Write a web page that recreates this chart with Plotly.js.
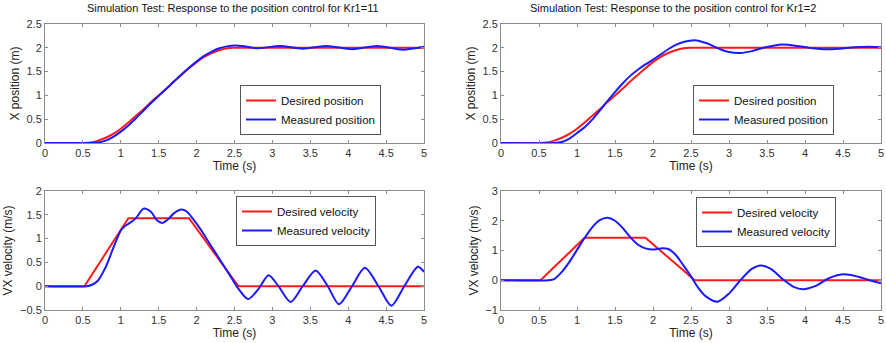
<!DOCTYPE html>
<html>
<head>
<meta charset="utf-8">
<script src="https://cdn.plot.ly/plotly-3.0.1.min.js"></script>
<style>html,body{margin:0;padding:0;background:#fff;}#chart{width:886px;height:343px;}</style>
</head>
<body>
<div id="chart"></div>
<script>
// ---- Data ----
var titles = ["Simulation Test: Response to the position control for Kr1=11",
              "Simulation Test: Response to the position control for Kr1=2"];
var xTicks = [0, 0.5, 1, 1.5, 2, 2.5, 3, 3.5, 4, 4.5, 5];
var xTickLabels = ["0", "0.5", "1", "1.5", "2", "2.5", "3", "3.5", "4", "4.5", "5"];

// Desired position (same in both tests)
var tDesPos = [0, 0.5, 0.6, 0.7, 0.8, 0.9, 1.0, 1.1, 1.2, 1.3, 1.4, 1.5, 1.6, 1.7, 1.8, 1.9, 2.0, 2.1, 2.2, 2.3, 2.4, 2.5, 3, 4, 5];
var desPos  = [0, 0, 0.01, 0.05, 0.11, 0.19, 0.30, 0.43, 0.57, 0.71, 0.86, 1.0, 1.14, 1.29, 1.43, 1.57, 1.70, 1.81, 1.89, 1.95, 1.99, 2.0, 2.0, 2.0, 2.0];

// Measured position, Kr1 = 11
var tMeasPos1 = [0, 0.6, 0.7, 0.8, 0.9, 1.0, 1.1, 1.2, 1.3, 1.4, 1.5, 1.6, 1.7, 1.8, 1.9, 2.0, 2.1, 2.2, 2.3, 2.4, 2.5, 2.6, 2.8, 3.1, 3.4, 3.72, 4.05, 4.38, 4.72, 5.0];
var measPos1  = [0, 0, 0.01, 0.05, 0.13, 0.24, 0.37, 0.52, 0.68, 0.84, 0.99, 1.14, 1.29, 1.44, 1.58, 1.71, 1.83, 1.92, 1.99, 2.03, 2.05, 2.04, 1.99, 2.04, 1.98, 2.04, 1.97, 2.04, 1.96, 2.02];

// Measured position, Kr1 = 2
var tMeasPos2 = [0, 0.7, 0.8, 0.9, 1.0, 1.1, 1.2, 1.3, 1.4, 1.5, 1.6, 1.7, 1.8, 1.9, 2.0, 2.1, 2.2, 2.3, 2.4, 2.55, 2.7, 2.8, 2.9, 3.0, 3.15, 3.3, 3.45, 3.7, 3.9, 4.05, 4.25, 4.45, 4.65, 4.85, 5.0];
var measPos2  = [0, 0, 0.02, 0.09, 0.21, 0.33, 0.49, 0.68, 0.88, 1.07, 1.25, 1.41, 1.54, 1.65, 1.75, 1.86, 1.97, 2.06, 2.12, 2.16, 2.1, 2.03, 1.96, 1.91, 1.89, 1.93, 2.0, 2.07, 2.04, 2.0, 1.97, 1.98, 2.01, 2.02, 2.01];

// Desired velocity (same in both tests)
var tDesVel = [0, 0.52, 1.1, 1.9, 2.55, 5];
var desVel  = [0, 0, 1.43, 1.43, 0, 0];

// Measured velocity, Kr1 = 11
var tMeasVel1 = [0, 0.55, 0.62, 0.7, 0.8, 0.9, 1.0, 1.05, 1.12, 1.2, 1.3, 1.4, 1.48, 1.55, 1.62, 1.7, 1.8, 1.87, 1.95, 2.05, 2.15, 2.25, 2.35, 2.45, 2.55, 2.68, 2.82, 2.95, 3.08, 3.24, 3.4, 3.57, 3.73, 3.88, 4.05, 4.22, 4.4, 4.57, 4.74, 4.92, 5.0];
var measVel1  = [0, 0, 0.03, 0.12, 0.4, 0.8, 1.17, 1.26, 1.33, 1.43, 1.63, 1.56, 1.38, 1.33, 1.4, 1.53, 1.61, 1.57, 1.42, 1.2, 0.95, 0.7, 0.45, 0.2, -0.05, -0.27, -0.05, 0.23, 0.0, -0.33, 0.0, 0.33, 0.0, -0.38, 0.0, 0.39, 0.0, -0.41, 0.0, 0.41, 0.3];

// Measured velocity, Kr1 = 2
var tMeasVel2 = [0, 0.62, 0.7, 0.8, 0.9, 1.0, 1.1, 1.2, 1.3, 1.4, 1.5, 1.6, 1.7, 1.8, 1.9, 2.0, 2.1, 2.2, 2.3, 2.4, 2.5, 2.6, 2.7, 2.85, 3.0, 3.15, 3.3, 3.42, 3.55, 3.7, 3.85, 3.97, 4.15, 4.3, 4.5, 4.7, 4.85, 5.0];
var measVel2  = [0, 0, 0.04, 0.28, 0.62, 1.02, 1.42, 1.78, 2.02, 2.1, 2.0, 1.76, 1.45, 1.2, 1.07, 1.03, 1.07, 1.05, 0.85, 0.5, 0.13, -0.27, -0.55, -0.72, -0.45, 0.0, 0.38, 0.5, 0.38, 0.05, -0.22, -0.3, -0.18, 0.05, 0.2, 0.12, 0.0, -0.1];

// ---- Styling ----
var RED = "#ff1a1a", BLUE = "#1a1aff";
var FONT = "Liberation Sans, Arial, sans-serif";

function line(x, y, name, color, xa, ya, leg, shape) {
  return {x: x, y: y, name: name, mode: "lines", type: "scatter",
          line: {color: color, width: 2, shape: shape || "spline", smoothing: 0.8},
          xaxis: xa, yaxis: ya, legend: leg, hoverinfo: "skip"};
}

var data = [
  line(tDesPos, desPos, "Desired position", RED, "x", "y", "legend"),
  line(tMeasPos1, measPos1, "Measured position", BLUE, "x", "y", "legend"),
  line(tDesPos, desPos, "Desired position", RED, "x2", "y2", "legend2"),
  line(tMeasPos2, measPos2, "Measured position", BLUE, "x2", "y2", "legend2"),
  line(tDesVel, desVel, "Desired velocity", RED, "x3", "y3", "legend3", "linear"),
  line(tMeasVel1, measVel1, "Measured velocity", BLUE, "x3", "y3", "legend3"),
  line(tDesVel, desVel, "Desired velocity", RED, "x4", "y4", "legend4", "linear"),
  line(tMeasVel2, measVel2, "Measured velocity", BLUE, "x4", "y4", "legend4")
];

function xaxis(dom, anchor) {
  return {domain: dom, anchor: anchor, range: [0, 5], tickvals: xTicks, ticktext: xTickLabels,
          showline: true, mirror: "ticks", linecolor: "#8c8c8c", linewidth: 1,
          ticks: "inside", ticklen: 3, tickcolor: "#8c8c8c", showgrid: false, zeroline: false,
          tickfont: {family: FONT, size: 11, color: "#333"},
          title: {text: "Time (s)", font: {family: FONT, size: 12, color: "#222"}, standoff: 2}};
}
function yaxis(dom, anchor, range, dtick, title) {
  return {domain: dom, anchor: anchor, range: range, dtick: dtick, tick0: 0,
          showline: true, mirror: "ticks", linecolor: "#8c8c8c", linewidth: 1,
          ticks: "inside", ticklen: 3, tickcolor: "#8c8c8c", showgrid: false, zeroline: false,
          tickfont: {family: FONT, size: 11, color: "#333"},
          title: {text: title, font: {family: FONT, size: 12, color: "#222"}, standoff: 4}};
}
function legend(x, y, yanchor) {
  return {x: x, y: y, xanchor: "right", yanchor: yanchor, xref: "paper", yref: "paper",
          bgcolor: "#fff", bordercolor: "#555", borderwidth: 1, itemwidth: 30,
          tracegroupgap: 0, font: {family: FONT, size: 11.5, color: "#111"}};
}

var xd1 = [45/886, 424/886], xd2 = [501/886, 881/886];
var yTop = [200/343, 319/343], yBot = [33/343, 152/343];

var layout = {
  width: 886, height: 343, margin: {l: 0, r: 0, t: 0, b: 0},
  paper_bgcolor: "#fff", plot_bgcolor: "#fff", showlegend: true,
  xaxis: xaxis(xd1, "y"), yaxis: yaxis(yTop, "x", [0, 2.5], 0.5, "X position (m)"),
  xaxis2: xaxis(xd2, "y2"), yaxis2: yaxis(yTop, "x2", [0, 2.5], 0.5, "X position (m)"),
  xaxis3: xaxis(xd1, "y3"), yaxis3: yaxis(yBot, "x3", [-0.5, 2], 0.5, "VX velocity (m/s)"),
  xaxis4: xaxis(xd2, "y4"), yaxis4: yaxis(yBot, "x4", [-1, 3], 1, "VX velocity (m/s)"),
  legend: legend(381/886, (343-135)/343, "bottom"),
  legend2: legend(834/886, (343-135)/343, "bottom"),
  legend3: legend(376/886, (343-196)/343, "top"),
  legend4: legend(836/886, (343-197)/343, "top"),
  annotations: [
    {text: titles[0], x: 233/886, y: 335/343, xref: "paper", yref: "paper", xanchor: "center", yanchor: "middle",
     showarrow: false, font: {family: FONT, size: 11, color: "#111"}},
    {text: titles[1], x: 673/886, y: 335/343, xref: "paper", yref: "paper", xanchor: "center", yanchor: "middle",
     showarrow: false, font: {family: FONT, size: 11, color: "#111"}}
  ]
};

Plotly.newPlot("chart", data, layout, {staticPlot: true, displayModeBar: false});
</script>
</body>
</html>
